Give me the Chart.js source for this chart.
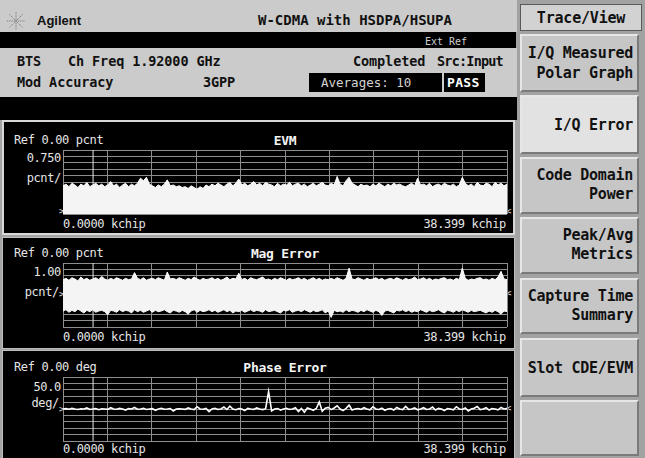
<!DOCTYPE html>
<html><head><meta charset="utf-8">
<script src="https://cdn.jsdelivr.net/npm/chart.js"></script>
<style>
html,body{margin:0;padding:0;}
body{width:645px;height:458px;position:relative;overflow:hidden;background:#a4a4a4;font-family:"DejaVu Sans Mono",monospace;}
.a{position:absolute;white-space:pre;line-height:1;}
.box{position:absolute;box-sizing:border-box;}
.hd{font-weight:bold;font-size:13.5px;color:#111;letter-spacing:-0.1px;}
.ct{font-size:12px;color:#e6e6e6;letter-spacing:-0.35px;}
.tt{font-size:13px;font-weight:bold;color:#f4f4f4;letter-spacing:-0.25px;}
.btn{position:absolute;box-sizing:border-box;left:520px;width:119px;background:#c6c6c6;border-top:2px solid #e6e6e6;border-left:2px solid #e6e6e6;border-bottom:2px solid #7a7a7a;border-right:2px solid #7a7a7a;}
.bt{position:absolute;right:4px;font-weight:bold;font-size:15px;line-height:1;color:#111;white-space:pre;letter-spacing:-0.25px;}
canvas{position:absolute;}
</style></head>
<body>
<!-- header -->
<div class="box" style="left:0;top:0;width:517px;height:32px;background:#cbcbcb;"></div>
<svg style="position:absolute;left:6px;top:11px" width="20" height="20" viewBox="0 0 20 20">
<g stroke="#7a7a7a" stroke-width="1" stroke-dasharray="1.2 1">
<line x1="10" y1="1" x2="10" y2="19"/><line x1="1" y1="10" x2="19" y2="10"/>
<line x1="3.5" y1="3.5" x2="16.5" y2="16.5"/><line x1="16.5" y1="3.5" x2="3.5" y2="16.5"/>
</g></svg>
<div class="a" style="left:37px;top:13.5px;font-family:'Liberation Sans',Arial,sans-serif;font-weight:bold;font-size:13px;color:#111;">Agilent</div>
<div class="a" style="left:258px;top:13px;font-weight:bold;font-size:14px;color:#111;">W-CDMA with HSDPA/HSUPA</div>
<div class="box" style="left:0;top:32px;width:516px;height:16px;background:#000;"></div>
<div class="a" style="left:425px;top:37px;font-size:10px;color:#cfcfcf;">Ext Ref</div>
<div class="box" style="left:0;top:48px;width:517px;height:49px;background:#cbcbcb;"></div>
<div class="a hd" style="left:17px;top:55px;">BTS</div>
<div class="a hd" style="left:68px;top:55px;">Ch Freq 1.92000 GHz</div>
<div class="a hd" style="left:17px;top:76px;">Mod Accuracy</div>
<div class="a hd" style="left:203px;top:76px;">3GPP</div>
<div class="a hd" style="left:353px;top:55px;">Completed</div>
<div class="a hd" style="left:437px;top:55px;letter-spacing:-0.8px;">Src:Input</div>
<div class="box" style="left:309px;top:73px;width:133px;height:19px;background:#000;"></div>
<div class="a" style="left:321px;top:76.5px;font-size:12.5px;color:#d4d4d4;">Averages: 10</div>
<div class="box" style="left:444px;top:73px;width:41px;height:19px;background:#000;"></div>
<div class="a" style="left:447px;top:76px;font-size:13px;font-weight:bold;color:#fff;letter-spacing:0.3px;">PASS</div>
<div class="box" style="left:0;top:97px;width:517px;height:23px;background:#000;"></div>

<!-- panels -->
<div class="box" style="left:2px;top:120px;width:513px;height:115px;background:#000;border:2px solid #d8d8d8;"></div>
<div class="box" style="left:2px;top:237px;width:513px;height:112px;background:#000;border:1px solid #bdbdbd;"></div>
<div class="box" style="left:2px;top:350px;width:513px;height:112px;background:#000;border:1px solid #bdbdbd;"></div>

<div class="a ct" style="left:14px;top:134px;">Ref 0.00 pcnt</div>
<div class="a tt" style="left:235px;width:100px;text-align:center;top:133.5px;">EVM</div>
<div class="a ct" style="right:584px;top:152px;">0.750</div>
<div class="a ct" style="right:584px;top:172px;">pcnt/</div>
<div class="a" style="left:59px;top:207px;font-size:9px;color:#e6e6e6;">&gt;</div>
<div class="a" style="left:506px;top:207px;font-size:9px;color:#e6e6e6;">&lt;</div>
<div class="a ct" style="left:63px;top:218px;">0.0000 kchip</div>
<div class="a ct" style="right:139px;top:218px;">38.399 kchip</div>

<div class="a ct" style="left:14px;top:247px;">Ref 0.00 pcnt</div>
<div class="a tt" style="left:235px;width:100px;text-align:center;top:246.5px;">Mag Error</div>
<div class="a ct" style="right:584px;top:265.5px;">1.00</div>
<div class="a ct" style="right:586px;top:286px;">pcnt/</div>
<div class="a" style="left:59px;top:290px;font-size:9px;color:#e6e6e6;">&gt;</div>
<div class="a" style="left:506px;top:289px;font-size:9px;color:#e6e6e6;">&lt;</div>
<div class="a ct" style="left:63px;top:331px;">0.0000 kchip</div>
<div class="a ct" style="right:139px;top:331px;">38.399 kchip</div>

<div class="a ct" style="left:14px;top:361px;">Ref 0.00 deg</div>
<div class="a tt" style="left:225px;width:120px;text-align:center;top:360.5px;">Phase Error</div>
<div class="a ct" style="right:584px;top:380.5px;">50.0</div>
<div class="a ct" style="right:586px;top:397px;">deg/</div>
<div class="a" style="left:59px;top:405px;font-size:9px;color:#e6e6e6;">&gt;</div>
<div class="a" style="left:506px;top:404px;font-size:9px;color:#e6e6e6;">&lt;</div>
<div class="a ct" style="left:63px;top:443px;">0.0000 kchip</div>
<div class="a ct" style="right:139px;top:443px;">38.399 kchip</div>

<canvas id="evm" width="446" height="66" style="left:62px;top:149px;"></canvas>
<canvas id="mag" width="446" height="66" style="left:62px;top:262px;"></canvas>
<canvas id="phase" width="446" height="66" style="left:62px;top:376px;"></canvas>

<!-- right softkeys -->
<div class="box" style="left:517px;top:0;width:128px;height:458px;background:#a2a2a2;"></div>
<div class="box" style="left:520px;top:4px;width:122px;height:27px;background:#d2d2d2;border:1px solid #5a5a5a;"></div>
<div class="a" style="left:520px;width:122px;text-align:center;top:10.5px;font-weight:bold;font-size:15px;color:#111;letter-spacing:-0.2px;">Trace/View</div>

<div class="btn" style="top:34px;height:58px;"><div class="bt" style="top:9.5px;">I/Q Measured</div><div class="bt" style="top:29.5px;">Polar Graph</div></div>
<div class="btn" style="top:95px;height:59px;background:#e2e2e2;"><div class="bt" style="top:20.5px;">I/Q Error</div></div>
<div class="btn" style="top:157px;height:57px;"><div class="bt" style="top:8.5px;">Code Domain</div><div class="bt" style="top:27.5px;">Power</div></div>
<div class="btn" style="top:217px;height:57px;"><div class="bt" style="top:8.5px;">Peak/Avg</div><div class="bt" style="top:27.5px;">Metrics</div></div>
<div class="btn" style="top:278px;height:56px;"><div class="bt" style="top:8.5px;">Capture Time</div><div class="bt" style="top:27.5px;">Summary</div></div>
<div class="btn" style="top:338px;height:59px;"><div class="bt" style="top:20.5px;">Slot CDE/EVM</div></div>
<div class="btn" style="top:400px;height:56px;"></div>

<script>
// x axis span (kchip) and marker position
const XMAX = 38.399;
const X_DIVS = 10;
const markerX = 2.6;

// EVM trace (pcnt)
const evmValues = [
3.3,3.5,3.2,3.6,3.4,3.1,3.5,3.3,3.7,3.2,
3.4,3.6,3.3,3.5,3.2,3.4,3.8,3.3,3.5,3.1,
3.4,3.6,3.2,3.5,3.3,3.6,4.2,3.9,4.3,3.5,
3.3,3.1,3.4,3.2,3.5,4.0,3.3,3.4,3.2,3.3,
3.1,3.2,3.0,3.3,3.1,2.9,3.2,3.0,3.4,3.2,
3.5,3.3,3.6,3.4,3.2,3.5,3.7,3.3,3.6,4.1,
3.4,3.6,3.3,3.5,3.8,3.4,3.6,3.3,3.7,3.5,
3.4,3.2,3.6,3.3,3.5,3.4,3.7,3.3,3.5,3.6,
3.3,3.5,3.2,3.4,3.6,3.3,3.5,3.7,3.4,3.3,
3.6,3.4,4.4,3.5,3.3,3.9,4.3,3.6,3.4,3.2,
3.5,3.3,3.4,3.2,3.5,3.3,3.6,3.4,3.2,3.5,
3.3,3.6,3.4,3.5,3.3,3.2,3.4,3.6,3.3,4.2,
3.4,3.5,3.3,3.6,3.2,3.4,3.5,3.3,3.6,3.4,
3.3,3.5,3.2,3.4,4.3,3.6,3.3,3.5,3.2,3.7,
3.4,3.3,3.6,3.5,3.2,3.7,3.4,3.6,3.3,3.5
];

// Mag Error envelope (pcnt)
const magUpper = [
2.4,2.6,2.3,2.7,2.5,2.2,2.8,2.4,2.6,2.3,
2.5,2.7,2.4,2.9,2.5,2.3,2.6,2.4,2.7,2.5,
2.3,2.6,2.4,2.5,3.5,2.6,2.4,2.7,2.3,2.5,
2.6,2.4,2.7,2.5,2.3,3.6,2.5,2.6,2.4,2.7,
2.5,2.3,2.6,2.4,2.8,2.5,2.3,2.6,2.4,2.5,
2.7,2.4,2.6,2.3,2.5,2.8,2.4,2.6,2.5,3.4,
2.4,2.6,2.3,2.7,2.5,2.4,2.6,2.8,2.4,2.5,
2.3,2.6,2.4,2.7,2.5,2.3,2.6,2.4,2.5,2.7,
2.4,2.6,2.3,2.5,2.7,2.4,2.6,2.3,2.5,2.4,
2.6,2.4,2.7,2.5,2.3,2.6,4.2,2.5,2.4,2.7,
2.5,2.3,2.6,2.4,2.5,2.7,2.4,2.6,2.3,2.5,
2.6,2.4,2.7,2.5,2.3,2.6,2.4,2.5,2.8,2.4,
2.5,2.7,2.4,2.6,2.3,2.5,2.4,2.6,2.7,2.4,
2.5,2.3,2.6,2.4,4.2,2.6,2.3,2.5,2.4,2.6,
2.7,2.4,2.5,2.3,2.6,2.4,2.8,3.7,2.5,2.4
];
const magLower = [
-2.5,-2.3,-2.7,-2.4,-2.6,-2.2,-2.5,-2.8,-2.4,-2.6,
-2.3,-2.7,-2.5,-2.4,-2.6,-3.1,-2.4,-2.5,-2.7,-2.3,
-2.6,-2.4,-2.5,-2.8,-2.3,-2.6,-2.4,-2.7,-2.5,-2.3,
-2.7,-2.4,-2.6,-2.5,-2.3,-2.6,-2.8,-2.4,-2.5,-2.7,
-2.4,-2.6,-3.0,-2.5,-2.3,-2.7,-2.4,-2.6,-2.5,-2.3,
-2.6,-2.4,-2.7,-2.5,-2.3,-2.6,-2.4,-2.8,-2.5,-2.6,
-2.4,-2.7,-2.5,-2.3,-2.6,-2.4,-2.5,-2.7,-2.3,-2.6,
-2.5,-2.4,-2.6,-2.8,-2.4,-2.5,-2.3,-2.7,-2.5,-2.4,
-2.6,-2.3,-2.5,-2.7,-2.4,-2.6,-2.5,-2.3,-2.8,-2.5,
-3.5,-2.4,-2.6,-2.5,-2.7,-2.3,-2.6,-2.4,-2.5,-2.7,
-2.4,-2.6,-2.3,-2.5,-2.7,-2.4,-2.6,-3.2,-2.5,-2.4,
-2.6,-2.8,-2.4,-2.5,-2.3,-2.6,-2.4,-2.7,-2.5,-2.6,
-2.3,-2.5,-2.7,-2.4,-2.6,-2.5,-2.3,-2.6,-2.8,-2.4,
-2.5,-2.7,-2.4,-2.6,-2.3,-2.5,-2.7,-2.4,-2.6,-2.5,
-2.4,-2.6,-2.8,-2.5,-2.7,-2.4,-2.6,-3.0,-2.5,-2.6
];

// Phase Error trace (deg)
const phaseValues = [
0,3,-2,5,0,-4,2,0,8,-3,
0,4,-6,2,0,-3,10,0,-2,5,
0,-8,3,0,12,-2,0,5,-4,0,
3,-10,0,6,-2,0,4,-15,0,2,
0,-3,8,0,-5,18,0,-2,4,-20,
0,6,-3,0,15,-4,22,0,-6,3,
0,-12,5,0,-3,8,0,-5,2,135,
-15,0,4,-8,0,6,-3,0,10,-20,
5,-25,8,0,-10,4,55,-18,6,12,
-5,8,25,0,-12,5,30,-8,0,4,
-3,10,0,-6,18,0,-4,6,-10,0,
4,-8,12,0,-5,20,-3,0,8,-6,
0,10,-4,0,15,-8,5,0,-12,4,
0,-6,18,0,-4,8,-15,0,6,20,
-5,0,10,-8,4,0,-6,12,0,3
];

// vertical scales: [min, max, per-division]
const evmScale = [0, 7.5, 0.75];
const magScale = [-5, 5, 1];
const phaseScale = [-250, 250, 50];

function pts(arr){ return arr.map((v,i)=>({x: i*XMAX/(arr.length-1), y: v})); }
function marker(sc){ return {data:[{x:markerX,y:sc[0]},{x:markerX,y:sc[1]}], borderColor:'#e8e8e8', borderWidth:1, fill:false}; }

function build(id, datasets, sc){
  const xt = []; for(let i=0;i<=X_DIVS;i++) xt.push({value: i*XMAX/X_DIVS});
  const yt = []; const n = Math.round((sc[1]-sc[0])/sc[2]); for(let i=0;i<=n;i++) yt.push({value: sc[0]+i*sc[2]});
  const gridOpt = {color:'#8e8e8e', lineWidth:1, drawTicks:false};
  return new Chart(document.getElementById(id), {
    type:'line',
    data:{datasets},
    options:{
      responsive:false, animation:false, devicePixelRatio:1,
      layout:{padding:1},
      elements:{point:{radius:0}, line:{tension:0}},
      plugins:{legend:{display:false}, tooltip:{enabled:false}},
      scales:{
        x:{type:'linear', min:0, max:XMAX, ticks:{display:false}, grid:gridOpt, border:{display:false},
           afterBuildTicks:s=>{s.ticks = xt;}},
        y:{type:'linear', min:sc[0], max:sc[1], ticks:{display:false}, grid:gridOpt, border:{display:false},
           afterBuildTicks:s=>{s.ticks = yt;}}
      }
    }
  });
}

build('evm', [
  {data:pts(evmValues), borderColor:'#ffffff', borderWidth:1, backgroundColor:'#f4f4f4', fill:'start'},
  marker(evmScale)
], evmScale);

build('mag', [
  {data:pts(magUpper), borderColor:'#ffffff', borderWidth:1, backgroundColor:'#f4f4f4', fill:'+1'},
  {data:pts(magLower), borderColor:'#ffffff', borderWidth:1, fill:false},
  marker(magScale)
], magScale);

build('phase', [
  {data:pts(phaseValues), borderColor:'#ffffff', borderWidth:1.6, fill:false},
  marker(phaseScale)
], phaseScale);
</script>
</body></html>
